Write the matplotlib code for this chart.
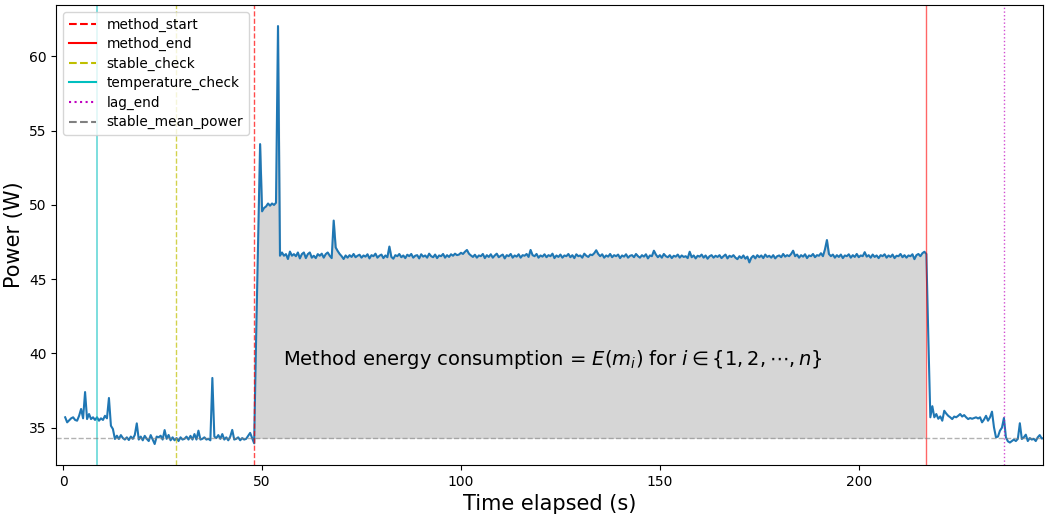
import numpy as np
import matplotlib
matplotlib.use("Agg")
import matplotlib.pyplot as plt

# sampling: one reading every 0.5 s
sample_step = 0.5

# power readings (W), split into runs; each run has its own start time (s)
idle_start = 0.5
idle_power = [
    35.70, 35.36, 35.50, 35.63, 35.70, 35.52, 35.47, 35.80, 36.26, 35.63,
    37.40, 35.58, 35.92, 35.58, 35.70, 35.52, 35.70, 35.47, 35.63, 35.52,
    35.80, 35.63, 37.00, 35.13, 34.91, 34.24, 34.46, 34.24, 34.50, 34.30,
    34.20, 34.35, 34.17, 34.40, 34.25, 34.51, 35.29, 34.20, 34.40, 34.15,
    34.45, 34.25, 34.10, 34.50, 34.20, 33.90, 34.40, 34.35,
]

warmup_start = 24.5
warmup_power = [
    34.46, 34.20, 34.84, 34.25, 34.51, 34.15, 34.35, 34.15, 34.30, 34.10,
    34.35, 34.20, 34.25, 34.40, 34.20, 34.45, 34.20, 34.57, 34.20, 34.80,
    34.20, 34.25, 34.35, 34.20, 34.25, 34.15, 38.35, 34.40, 34.30, 34.50,
    34.25, 34.57, 34.20, 34.35, 34.15, 34.40, 34.85, 34.20, 34.25, 34.35,
    34.15, 34.30, 34.20, 34.25, 34.45, 34.65, 34.30, 33.95, 41.00, 47.50,
    54.10, 49.57, 49.80, 49.90, 50.10, 49.95, 50.10, 50.00, 50.15, 62.05,
    46.58,
]

run_start = 55.0
run_power = [
    46.80, 46.58, 46.69, 46.36, 46.86, 46.58, 46.69, 46.55, 46.80, 46.40,
    46.69, 46.80, 46.42, 46.69, 46.80, 46.45, 46.58, 46.42, 46.69, 46.58,
    46.72, 46.45, 46.69, 46.80, 46.58, 46.42, 48.95, 47.14, 46.90, 46.70,
    46.55, 46.36, 46.60, 46.45, 46.62, 46.50, 46.70, 46.48, 46.58, 46.65,
    46.45, 46.60, 46.52, 46.68, 46.40, 46.62, 46.55, 46.72, 46.45, 46.58,
    46.66, 46.42, 46.60, 46.48, 47.20, 46.50, 46.38, 46.62, 46.55, 46.70,
    46.48, 46.60, 46.42, 46.65, 46.55, 46.70, 46.45, 46.58, 46.62, 46.40,
    46.68, 46.52, 46.60, 46.45, 46.72, 46.55, 46.48, 46.66, 46.42, 46.60,
    46.55, 46.70, 46.45, 46.62, 46.50, 46.68, 46.58, 46.72, 46.62, 46.66,
    46.78, 46.70, 46.85, 46.97, 46.72, 46.60, 46.50, 46.65, 46.45, 46.60,
    46.55, 46.70, 46.42, 46.62, 46.50, 46.68, 46.45, 46.60, 46.72, 46.48,
    46.58, 46.66, 46.40, 46.62, 46.55, 46.70, 46.45, 46.60, 46.52, 46.68,
    46.45, 46.62, 46.58, 46.70, 46.50, 46.97, 46.62, 46.55, 46.70, 46.45,
    46.60, 46.52, 46.68, 46.48, 46.62, 46.55, 46.72, 46.42, 46.60, 46.50,
    46.66, 46.45, 46.60, 46.55, 46.70, 46.48, 46.62, 46.42, 46.68, 46.55,
    46.60, 46.45, 46.72, 46.58, 46.50, 46.66, 46.62, 46.75, 46.95, 46.70,
    46.55, 46.68, 46.45, 46.60, 46.52, 46.70, 46.48, 46.62, 46.55, 46.66,
    46.42, 46.60, 46.52, 46.68, 46.45, 46.58, 46.62, 46.48, 46.70, 46.55,
    46.45, 46.62, 46.52, 46.68, 46.40, 46.60, 46.55, 46.92, 46.66, 46.48,
    46.62, 46.45, 46.70, 46.55, 46.48, 46.62, 46.42, 46.58, 46.52, 46.66,
    46.45, 46.60, 46.50, 46.55, 46.42, 46.85, 46.48, 46.60, 46.40, 46.58,
    46.52, 46.66, 46.45, 46.60, 46.38, 46.55, 46.62, 46.45, 46.58, 46.50,
    46.62, 46.42, 46.55, 46.66, 46.40, 46.58, 46.50, 46.62, 46.45, 46.35,
    46.55, 46.42, 46.60, 46.38, 46.52, 46.13, 46.45, 46.58, 46.40, 46.62,
    46.48, 46.60, 46.42, 46.66, 46.50, 46.58, 46.45, 46.62, 46.40, 46.55,
    46.60, 46.48, 46.70, 46.52, 46.62, 46.55, 46.70, 46.92, 46.55, 46.66,
    46.45, 46.62, 46.52, 46.68, 46.42, 46.60, 46.55, 46.70, 46.48, 46.62,
    46.58, 46.75, 46.55, 47.00, 47.64, 46.70, 46.55, 46.66, 46.45, 46.62,
    46.50, 46.66, 46.42, 46.60, 46.55, 46.68, 46.45, 46.62, 46.50, 46.70,
    46.48, 46.60, 46.55, 46.82, 46.52, 46.62, 46.45, 46.66, 46.50, 46.60,
    46.42, 46.62, 46.55, 46.68, 46.45, 46.60, 46.50, 46.66, 46.42, 46.58,
    46.55, 46.70, 46.48, 46.62, 46.45, 46.60, 46.55, 46.68, 46.35, 46.62,
    46.70, 46.55, 46.75, 46.85, 46.70, 41.00,
]

cooldown_start = 218.0
cooldown_power = [
    35.70, 36.45, 35.70, 35.92, 35.60, 35.76, 35.47, 36.14, 35.95, 35.80,
    35.70, 35.58, 35.75, 35.70, 35.80, 35.92, 35.75, 35.85, 35.70, 35.58,
    35.65, 35.60, 35.65, 35.70, 35.62, 35.70, 35.36, 35.55, 35.80, 35.47,
    35.70, 36.08, 35.02, 34.35, 34.40, 34.80, 35.00, 35.65, 34.35, 34.08,
    34.00, 34.10, 34.20, 34.10, 34.25, 35.30, 34.24, 34.35, 34.53, 34.10,
    34.30, 34.20, 34.25, 34.10, 34.35, 34.50, 34.27, 34.30,
]

# event markers (s) and the stable idle level (W)
temperature_check = 8.56
stable_check = 28.46
method_start = 48.0
method_end = 216.9
lag_end = 236.5
stable_mean_power = 34.33


def build_series():
    runs = [
        (idle_start, idle_power),
        (warmup_start, warmup_power),
        (run_start, run_power),
        (cooldown_start, cooldown_power),
    ]
    times, values = [], []
    for start, vals in runs:
        times.append(start + sample_step * np.arange(len(vals)))
        values.append(np.array(vals))
    return np.concatenate(times), np.concatenate(values)


time, power = build_series()

fig, ax = plt.subplots(figsize=(10.45, 5.16), dpi=100)
fig.subplots_adjust(left=0.054, right=0.998, top=0.990, bottom=0.099)

ax.plot(time, power, color="#1f77b4", linewidth=1.5)

ax.axvline(method_start, color="r", linestyle="--", alpha=0.7, linewidth=1,
           label="method_start")
ax.axvline(method_end, color="r", linestyle="-", alpha=0.6, linewidth=1,
           label="method_end")
ax.axvline(stable_check, color="y", linestyle="--", alpha=0.7, linewidth=1,
           label="stable_check")
ax.axvline(temperature_check, color="c", linestyle="-", alpha=0.6, linewidth=1.2,
           label="temperature_check")
ax.axvline(lag_end, color="m", linestyle=":", alpha=0.7, linewidth=1,
           label="lag_end")
ax.axhline(stable_mean_power, color="gray", linestyle="--", alpha=0.6,
           linewidth=1, label="stable_mean_power")

in_method = (time >= method_start) & (time <= method_end)
ax.fill_between(time, power, stable_mean_power, where=in_method,
                color="#d6d6d6", zorder=0)

ax.text(55.3, 39.6,
        r"Method energy consumption = $E(m_i)$ for $i \in \{1, 2, \cdots, n\}$",
        fontsize=14, va="center")

leg = ax.legend(loc="upper left", fontsize=9.8, labelspacing=0.4)
for h in leg.legend_handles:
    h.set_alpha(1)
    h.set_linewidth(1.5)

ax.set_xlim(-1.7, 246.3)
ax.set_xlabel("Time elapsed (s)", fontsize=15)
ax.set_ylabel("Power (W)", fontsize=15)

fig.savefig("out.png", dpi=100)
